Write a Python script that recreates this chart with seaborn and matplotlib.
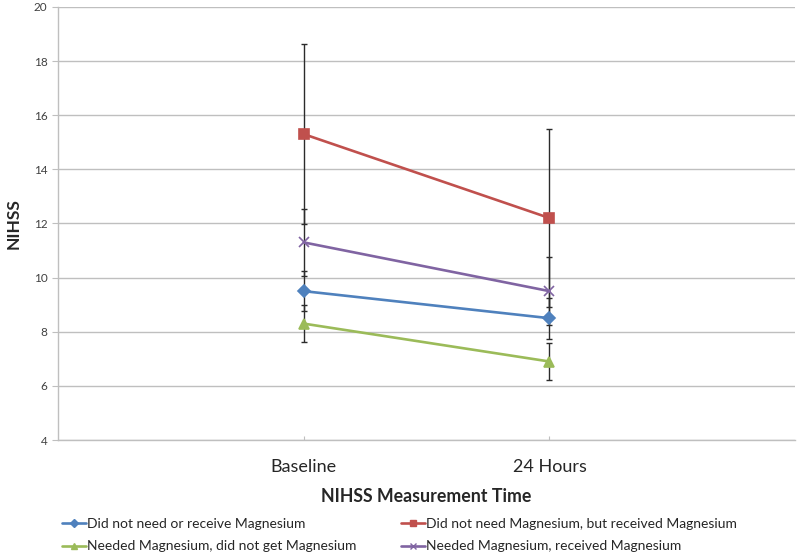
import numpy as np
import pandas as pd
import matplotlib.pyplot as plt
from matplotlib.lines import Line2D
import seaborn as sns

# values
TIMES = ["Baseline", "24 Hours"]
GROUPS = [
    "Did not need or receive Magnesium",
    "Did not need Magnesium, but received Magnesium",
    "Needed Magnesium, did not get Magnesium",
    "Needed Magnesium, received Magnesium",
]
MEAN_NO_NEED_NO_MG = [9.5, 8.5]
MEAN_NO_NEED_MG = [15.3, 12.2]
MEAN_NEED_NO_MG = [8.3, 6.9]
MEAN_NEED_MG = [11.3, 9.5]
ERR_NO_NEED_NO_MG = [0.75, 0.75]
ERR_NO_NEED_MG = [3.33, 3.3]
ERR_NEED_NO_MG = [0.67, 0.67]
ERR_NEED_MG = [1.25, 1.25]

COLORS = ["#4F81BD", "#C0504D", "#9BBB59", "#8064A2"]
MARKERS = ["D", "s", "^", "x"]
MSIZES = [6, 7, 7, 7]

means = [MEAN_NO_NEED_NO_MG, MEAN_NO_NEED_MG, MEAN_NEED_NO_MG, MEAN_NEED_MG]
errs = [ERR_NO_NEED_NO_MG, ERR_NO_NEED_MG, ERR_NEED_NO_MG, ERR_NEED_MG]

rows = []
for g, m, e in zip(GROUPS, means, errs):
    for i, t in enumerate(TIMES):
        rows.append({"group": g, "time": t, "pos": i + 1, "nihss": m[i], "err": e[i]})
df = pd.DataFrame(rows)

sns.set_style("white")
plt.rcParams["font.family"] = ["Lato", "DejaVu Sans"]

fig = plt.figure(figsize=(8, 5.56), dpi=100)
ax = fig.add_axes([0.0725, 0.2086, 0.9215, 0.779])

for g in GROUPS:
    sub = df[df["group"] == g]
    ax.errorbar(sub["pos"], sub["nihss"], yerr=sub["err"], fmt="none",
                ecolor="#2b2b2b", elinewidth=1.0, capsize=2.3, capthick=1.0, zorder=2)

handles = {}
for g, color, mk, ms in zip(GROUPS, COLORS, MARKERS, MSIZES):
    sub = df[df["group"] == g]
    sns.lineplot(data=sub, x="pos", y="nihss", color=color, marker=mk,
                 markersize=ms, markeredgewidth=1.2, markeredgecolor=color,
                 linewidth=1.9, ax=ax, zorder=3, legend=False)
    handles[g] = Line2D([], [], color=color, marker=mk, linewidth=1.9,
                        markersize=ms - 2, markeredgewidth=1.0, label=g)

ax.set_xlim(0, 3)
ax.set_ylim(4, 20)
ax.set_yticks(np.arange(4, 21, 2))
ax.set_xticks([1, 2])
ax.set_xticklabels(TIMES, fontsize=13)
ax.tick_params(axis="y", labelsize=8.5, length=4, color="#BFBFBF", colors="#404040", left=True)
ax.tick_params(axis="x", length=3, direction="in", pad=14, color="#BFBFBF", bottom=True)
for lbl in ax.get_xticklabels():
    lbl.set_color("#262626")
ax.yaxis.grid(True, color="#BFBFBF", linewidth=1)
ax.set_axisbelow(True)
for side in ["top", "right"]:
    ax.spines[side].set_visible(False)
for side in ["left", "bottom"]:
    ax.spines[side].set_color("#BFBFBF")
    ax.spines[side].set_linewidth(1)

ax.set_xlabel("NIHSS Measurement Time", fontsize=12.8, fontweight="bold", labelpad=9)
ax.set_ylabel("NIHSS", fontsize=12.5, fontweight="bold", labelpad=9)

order = [GROUPS[0], GROUPS[2], GROUPS[1], GROUPS[3]]
fig.legend(handles=[handles[g] for g in order], loc="lower left", bbox_to_anchor=(0.062, -0.016),
           ncol=2, frameon=False, fontsize=10, handlelength=1.7, handletextpad=0.1,
           columnspacing=3.2, labelspacing=0.75)

fig.savefig("out.png", dpi=100)
